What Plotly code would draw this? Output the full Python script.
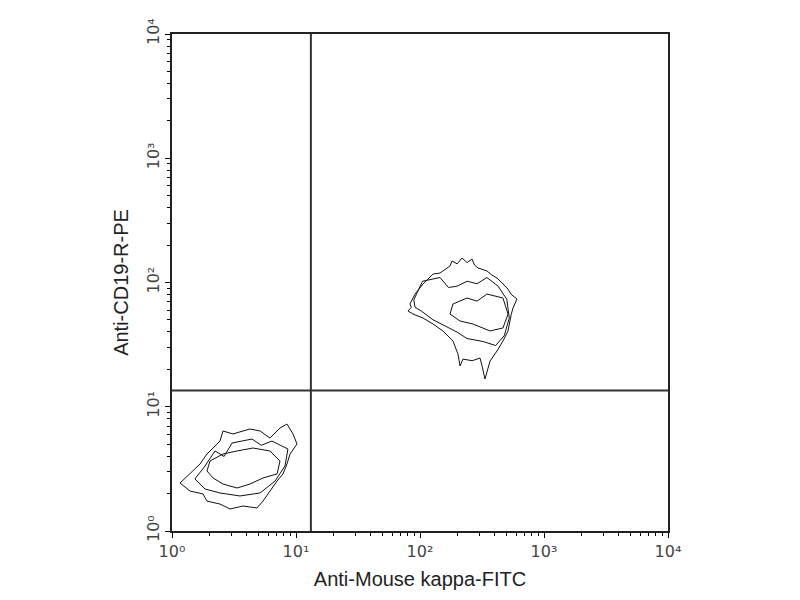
import plotly.graph_objects as go

# Quadrant gate positions (log10 decades)
gate_x = 1.12
gate_y = 1.13

# Contour paths, in log10 decades (x: Anti-Mouse kappa-FITC, y: Anti-CD19-R-PE)
pos_outer_x = [2.258, 2.300, 2.339, 2.380, 2.419, 2.440, 2.468, 2.540, 2.580, 2.621, 2.702, 2.740, 2.782, 2.750, 2.735, 2.726, 2.710, 2.669, 2.621, 2.565, 2.548, 2.524, 2.500, 2.484, 2.420, 2.347, 2.323, 2.306, 2.266, 2.185, 2.105, 2.024, 1.944, 1.903, 1.930, 1.919, 1.960, 2.024, 2.105, 2.161, 2.242, 2.258]
pos_outer_y = [2.173, 2.150, 2.197, 2.160, 2.189, 2.140, 2.117, 2.093, 2.060, 2.036, 1.956, 1.900, 1.867, 1.795, 1.740, 1.690, 1.610, 1.529, 1.449, 1.368, 1.304, 1.223, 1.330, 1.392, 1.370, 1.384, 1.328, 1.425, 1.529, 1.610, 1.666, 1.714, 1.746, 1.771, 1.800, 1.827, 1.907, 1.988, 2.068, 2.076, 2.133, 2.173]

pos_mid_x = [1.950, 2.020, 2.161, 2.230, 2.298, 2.380, 2.460, 2.540, 2.630, 2.700, 2.720, 2.700, 2.680, 2.610, 2.508, 2.379, 2.300, 2.242, 2.105, 2.010, 1.960, 1.950]
pos_mid_y = [1.860, 2.010, 2.040, 1.960, 1.970, 2.010, 1.990, 2.040, 1.970, 1.865, 1.714, 1.640, 1.573, 1.493, 1.525, 1.549, 1.600, 1.630, 1.700, 1.771, 1.800, 1.860]

pos_inner_x = [2.266, 2.379, 2.460, 2.540, 2.669, 2.710, 2.669, 2.565, 2.427, 2.323, 2.242, 2.266]
pos_inner_y = [1.827, 1.875, 1.850, 1.907, 1.875, 1.746, 1.634, 1.610, 1.666, 1.690, 1.746, 1.827]

neg_outer_x = [0.065, 0.145, 0.250, 0.282, 0.387, 0.468, 0.573, 0.685, 0.734, 0.790, 0.847, 0.895, 0.927, 0.952, 1.008, 0.976, 0.927, 0.871, 0.790, 0.710, 0.629, 0.573, 0.492, 0.411, 0.387, 0.331, 0.282, 0.226, 0.169, 0.105, 0.065]
neg_outer_y = [0.386, 0.322, 0.298, 0.241, 0.217, 0.177, 0.201, 0.185, 0.241, 0.322, 0.402, 0.459, 0.539, 0.620, 0.700, 0.781, 0.861, 0.829, 0.748, 0.805, 0.821, 0.805, 0.781, 0.805, 0.724, 0.668, 0.620, 0.539, 0.483, 0.427, 0.386]

neg_mid_x = [0.185, 0.266, 0.347, 0.420, 0.484, 0.645, 0.720, 0.806, 0.935, 0.911, 0.831, 0.710, 0.548, 0.387, 0.266, 0.185]
neg_mid_y = [0.419, 0.523, 0.644, 0.600, 0.708, 0.740, 0.690, 0.724, 0.660, 0.523, 0.402, 0.306, 0.282, 0.306, 0.338, 0.419]

neg_inner_x = [0.306, 0.411, 0.524, 0.653, 0.790, 0.871, 0.847, 0.734, 0.629, 0.524, 0.411, 0.331, 0.282, 0.306]
neg_inner_y = [0.563, 0.620, 0.644, 0.668, 0.644, 0.563, 0.459, 0.427, 0.378, 0.346, 0.378, 0.427, 0.483, 0.563]

major_vals = [1, 10, 100, 1000, 10000]
major_text = ["10⁰", "10¹", "10²", "10³", "10⁴"]
minor_vals = [m * 10 ** d for d in range(4) for m in range(2, 10)]

fig = go.Figure()

paths = [
    (pos_outer_x, pos_outer_y), (pos_mid_x, pos_mid_y), (pos_inner_x, pos_inner_y),
    (neg_outer_x, neg_outer_y), (neg_mid_x, neg_mid_y), (neg_inner_x, neg_inner_y),
]
for px, py in paths:
    fig.add_trace(go.Scatter(
        x=[10 ** v for v in px], y=[10 ** v for v in py], mode="lines",
        line=dict(color="#111111", width=1), hoverinfo="skip", showlegend=False,
    ))

fig.add_shape(type="line", xref="x", yref="paper", x0=10 ** gate_x, x1=10 ** gate_x, y0=0, y1=1,
              line=dict(color="#333333", width=2))
fig.add_shape(type="line", xref="paper", yref="y", x0=0, x1=1, y0=10 ** gate_y, y1=10 ** gate_y,
              line=dict(color="#333333", width=2))

axis_common = dict(
    type="log", range=[0, 4], tickvals=major_vals, ticktext=major_text,
    ticks="outside", ticklen=5, tickcolor="black", tickwidth=1,
    showline=True, linecolor="#222222", linewidth=2, mirror=True,
    showgrid=False, zeroline=False, automargin=False,
    tickfont=dict(family="DejaVu Sans", size=16, color="#444444"),
    minor=dict(tickvals=minor_vals, ticks="outside", ticklen=3, tickcolor="black", showgrid=False),
)

fig.update_layout(
    width=800, height=600,
    margin=dict(l=164, r=140, t=26, b=77),
    paper_bgcolor="white", plot_bgcolor="white",
    xaxis=dict(**axis_common, title=dict(text="Anti-Mouse kappa-FITC", standoff=12,
               font=dict(family="Liberation Sans, Arial", size=20, color="#222222"))),
    yaxis=dict(**axis_common, tickangle=-90, title=dict(text="Anti-CD19-R-PE", standoff=10,
               font=dict(family="Liberation Sans, Arial", size=20, color="#222222"))),
)

fig.write_html("out.html")
